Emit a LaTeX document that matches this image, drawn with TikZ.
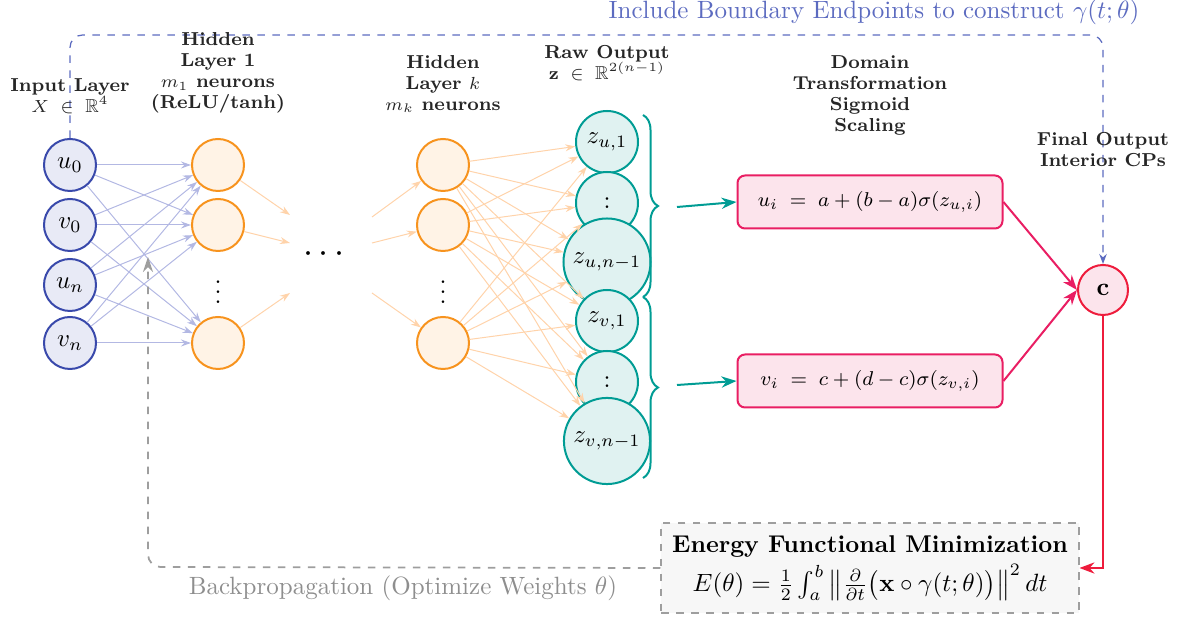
\documentclass[tikz,border=0pt]{standalone}
\usepackage{amsmath}
\usepackage{amssymb}
\usepackage{tikz}
\usetikzlibrary{arrows.meta}
\usetikzlibrary{decorations.pathreplacing}
\definecolor{inBlue}{HTML}{3949AB}
\definecolor{inFill}{HTML}{E8EAF6}
\definecolor{inEdge}{HTML}{B3B8E3}
\definecolor{hidOrange}{HTML}{F7931E}
\definecolor{hidFill}{HTML}{FFF3E6}
\definecolor{hidEdge}{HTML}{FFD3AA}
\definecolor{outTeal}{HTML}{009C94}
\definecolor{outFill}{HTML}{E0F2F1}
\definecolor{trPink}{HTML}{E91E63}
\definecolor{trFill}{HTML}{FCE4EC}
\definecolor{cRed}{HTML}{EE1C3C}
\definecolor{bndBlue}{HTML}{5C6BC0}
\definecolor{bpGray}{HTML}{9E9E9E}
\definecolor{enFill}{HTML}{F7F7F7}

\begin{document}
\begin{tikzpicture}[x=0.4pt,y=-0.4pt,
innode/.style={circle,draw=inBlue,fill=inFill,line width=0.8pt,minimum size=20.8pt,inner sep=1pt},
hidnode/.style={circle,draw=hidOrange,fill=hidFill,line width=0.8pt,minimum size=20.8pt},
outnode/.style={circle,draw=outTeal,fill=outFill,line width=0.8pt,minimum size=24.8pt,inner sep=2.6pt},
trbox/.style={rectangle,rounded corners=3pt,draw=trPink,fill=trFill,line width=0.8pt,minimum width=106pt,minimum height=21.2pt,font=\fontsize{8.4}{10}\selectfont},
hdr/.style={text=black!85,font=\fontsize{7.5}{8.4}\selectfont\bfseries,align=center},
wIn/.style={draw=inEdge,line width=0.4pt,-{Stealth[length=4pt,width=2.8pt]}},
wHid/.style={draw=hidEdge,line width=0.4pt,-{Stealth[length=4pt,width=2.8pt]}},
brc/.style={draw=outTeal,line width=0.8pt,decorate,decoration={brace,amplitude=6pt}},
tealarr/.style={draw=outTeal,line width=0.8pt,-{Stealth[length=6pt,width=4.5pt]}},
pinkarr/.style={draw=trPink,line width=0.8pt,-{Stealth[length=6pt,width=4.5pt]}}]
\useasboundingbox (0,0) rectangle (1196,617);

% input layer
\foreach \nm/\lb/\yy in {u0/u_0/165,v0/v_0/225,un/u_n/285,vn/v_n/343}
  \node[innode] (\nm) at (70,\yy) {$\lb$};
% hidden layers
\foreach \nm/\yy in {a/165,b/225,c/343}{
  \node[hidnode] (h1\nm) at (218,\yy) {};
  \node[hidnode] (hk\nm) at (443,\yy) {};
}
\node[inner sep=0pt] (h1d) at (218,285) {$\vdots$};
\node[inner sep=0pt] (hkd) at (443,285) {$\vdots$};
\node[inner sep=0pt] (mid) at (327,255) {\Large$\cdots$};
% raw output
\foreach \nm/\lb/\yy in {o1/z_{u,1}/142,o2/:/203,o3/z_{u,n-1}/262,o4/z_{v,1}/321,o5/:/382,o6/z_{v,n-1}/441}
  \node[outnode] (\nm) at (607,\yy) {$\lb$};

\foreach \s in {u0,v0,un,vn}
  \foreach \t in {h1a,h1b,h1c}
    \draw[wIn] (\s) -- (\t);
\coordinate (dl1) at (290,215);
\coordinate (dl2) at (290,243);
\coordinate (dl3) at (290,293);
\coordinate (dr1) at (372,217);
\coordinate (dr2) at (372,243);
\coordinate (dr3) at (372,293);
\draw[wHid] (h1a) -- (dl1);
\draw[wHid] (h1b) -- (dl2);
\draw[wHid] (h1c) -- (dl3);
\draw[wHid] (dr1) -- (hka);
\draw[wHid] (dr2) -- (hkb);
\draw[wHid] (dr3) -- (hkc);
\foreach \s in {hka,hkb,hkc}
  \foreach \t in {o1,o2,o3,o4,o5,o6}
    \draw[wHid] (\s) -- (\t);

\draw[brc] (643,115) -- (643,297);
\draw[brc] (643,297) -- (643,478);
\coordinate (bu) at (677,207);
\coordinate (bv) at (677,385);

% domain transformation
\node[trbox] (ubox) at (870,202) {$u_i \;=\; a + (b-a)\sigma(z_{u,i})$};
\node[trbox] (vbox) at (870,381) {$v_i \;=\; c + (d-c)\sigma(z_{v,i})$};
\draw[tealarr] (bu) -- (ubox.west);
\draw[tealarr] (bv) -- (vbox.west);

\node[circle,draw=cRed,fill=trFill,line width=0.8pt,minimum size=20pt] (c) at (1103,290) {$\mathbf{c}$};
\draw[pinkarr] (ubox.east) -- (c.west);
\draw[pinkarr] (vbox.east) -- (c.west);

\node[rectangle,draw=bpGray,dashed,fill=enFill,line width=0.8pt,minimum width=166.8pt,minimum height=36pt,align=center] (energy) at (870,568)
  {\textbf{\fontsize{9.7}{11}\selectfont Energy Functional Minimization}\\[2pt]
   $E(\theta)=\frac{1}{2}\int_a^b \left\|\frac{\partial}{\partial t}\big(\mathbf{x}\circ\gamma(t;\theta)\big)\right\|^2 dt$};
\draw[cRed,line width=0.8pt,-{Stealth[length=6pt,width=4.5pt]}] (c.south) |- (energy.east);

% feedback paths
\coordinate (tl) at (70,35);
\coordinate (tr) at (1103,35);
\draw[bndBlue,line width=0.5pt,dashed,rounded corners=5pt,-{Stealth[length=4pt,width=3pt]}] (u0.north) -- (tl) -- (tr) -- (c.north);
\node[text=bndBlue] (bndlbl) at (874,12) {Include Boundary Endpoints to construct $\gamma(t;\theta)$};
\coordinate (bl) at (148,567);
\coordinate (ba) at (148,257);
\draw[bpGray,line width=0.7pt,dashed,rounded corners=5pt,-{Stealth[length=6pt,width=4pt]}] (energy.west) -- (bl) -- (ba);
\node[text=bpGray!90!black] (bplbl) at (403,588) {Backpropagation (Optimize Weights $\theta$)};

% layer labels
\node[hdr] (inlbl) at (70,96) {Input Layer\\$X \;\in\; \mathbb{R}^4$};
\node[hdr] (h1lbl) at (218,73) {Hidden\\Layer 1\\$m_1$ neurons\\(ReLU/tanh)};
\node[hdr] (hklbl) at (443,84) {Hidden\\Layer $k$\\$m_k$ neurons};
\node[hdr] (rawlbl) at (607,63) {Raw Output\\$\mathbf{z} \;\in\; \mathbb{R}^{2(n-1)}$};
\node[hdr] (domlbl) at (870,95) {Domain\\Transformation\\Sigmoid\\Scaling};
\node[hdr] (finlbl) at (1103,150) {Final Output\\Interior CPs};
\end{tikzpicture}
\end{document}
